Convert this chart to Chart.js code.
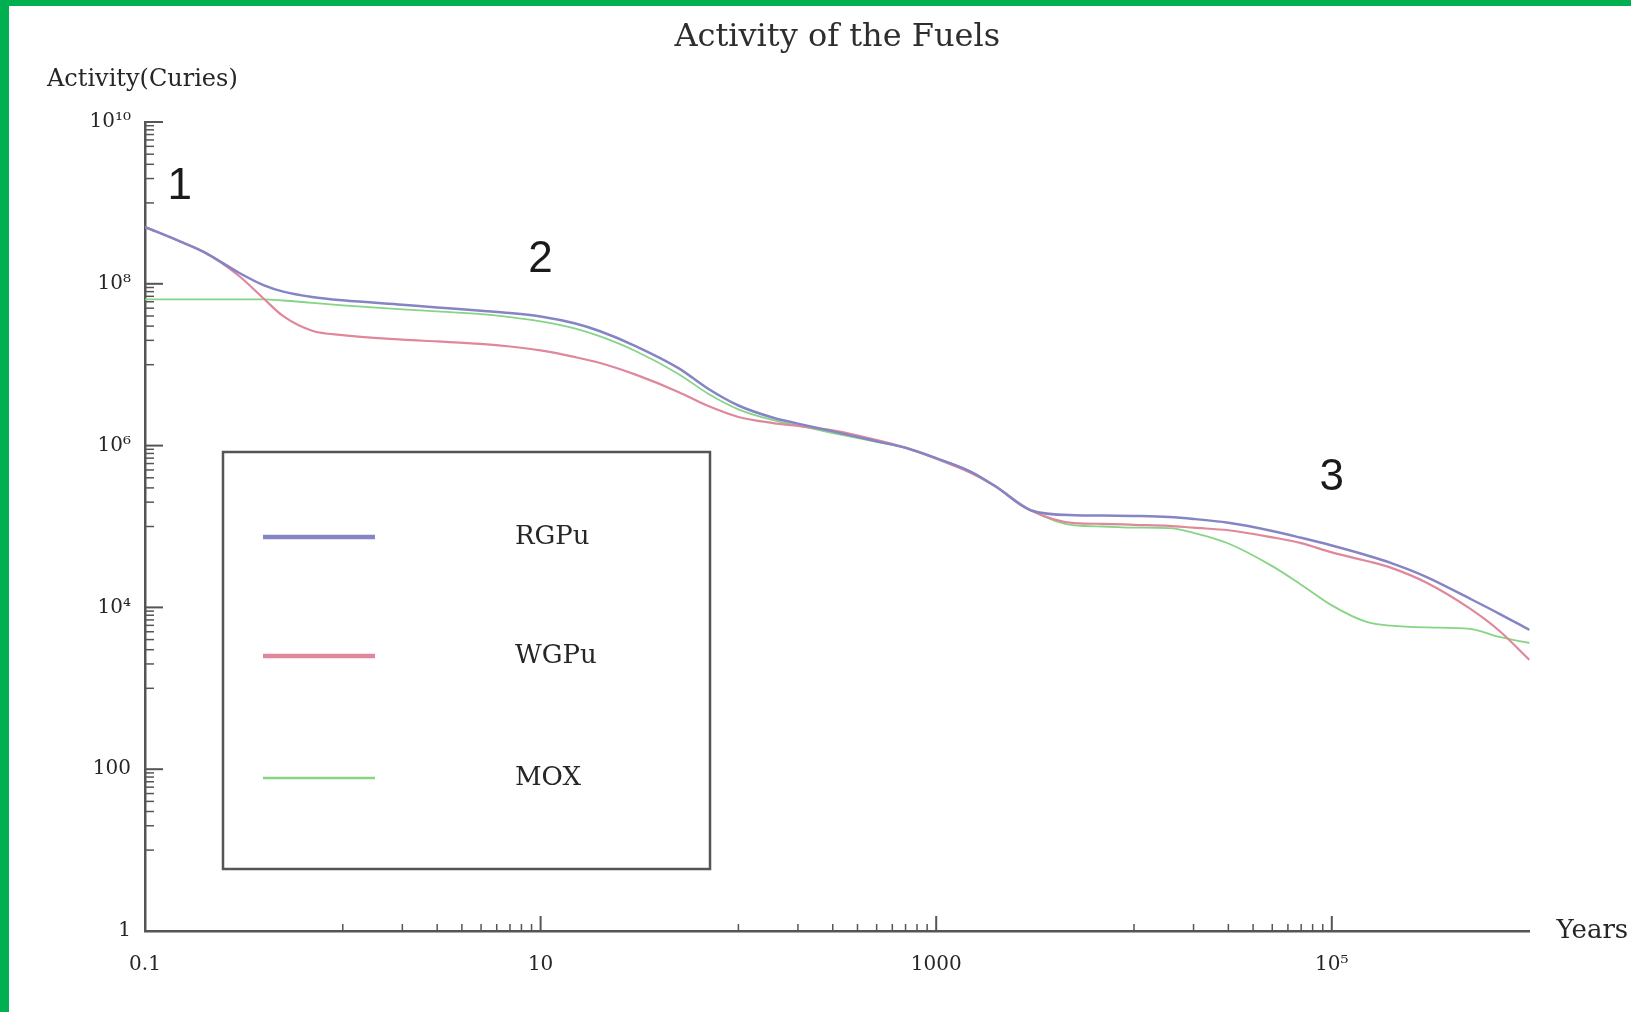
<!DOCTYPE html>
<html><head><meta charset="utf-8">
<script src="https://cdn.jsdelivr.net/npm/chart.js@4.4.1/dist/chart.umd.min.js"></script>
<style>
html,body{margin:0;padding:0;background:#fff;}
#wrap{position:relative;width:1631px;height:1012px;overflow:hidden;background:#fff;}
canvas{display:block;}
.gt{position:absolute;left:0;top:0;width:1631px;height:6px;background:#00b050;}
.gl{position:absolute;left:0;top:0;width:9px;height:1012px;background:#00b050;}
</style></head><body>
<div id="wrap"><canvas id="c" width="1631" height="1012"></canvas><div class="gt"></div><div class="gl"></div></div>
<script>
// ---- data ----
const years = [0.1,0.15,0.2,0.3,0.4,0.5,0.7,1,2,3,5,7,10,15,20,30,50,70,100,150,200,300,500,700,1000,1500,2000,3000,5000,7000,1e4,1.5e4,2e4,3e4,5e4,7e4,1e5,1.5e5,2e5,3e5,5e5,7e5,1e6];
const rgpu = [5.04e8,3.35e8,2.45e8,1.36e8,9.55e7,8.0e7,6.87e7,6.24e7,5.5e7,5.1e7,4.65e7,4.35e7,3.95e7,3.23e7,2.59e7,1.71e7,9.0e6,5.08e6,3.13e6,2.21e6,1.87e6,1.5e6,1.13e6,9.4e5,7.0e5,4.75e5,3.12e5,1.59e5,1.38e5,1.37e5,1.35e5,1.31e5,1.24e5,1.11e5,8.8e4,7.25e4,5.82e4,4.41e4,3.53e4,2.39e4,1.28e4,8.4e3,5.26e3];
const wgpu = [5.04e8,3.35e8,2.45e8,1.24e8,6.49e7,3.98e7,2.63e7,2.32e7,2.04e7,1.94e7,1.81e7,1.68e7,1.50e7,1.24e7,1.05e7,7.59e6,4.58e6,3.10e6,2.26e6,1.90e6,1.75e6,1.54e6,1.17e6,9.4e5,6.87e5,4.58e5,3.12e5,1.59e5,1.10e5,1.08e5,1.05e5,1.02e5,9.66e4,8.98e4,7.35e4,6.24e4,4.79e4,3.75e4,3.08e4,2.03e4,9.64e3,5.18e3,2.24e3];
const mox  = [6.43e7,6.43e7,6.43e7,6.43e7,6.42e7,6.22e7,5.81e7,5.41e7,4.83e7,4.57e7,4.21e7,3.87e7,3.43e7,2.80e7,2.24e7,1.49e7,7.64e6,4.41e6,2.81e6,2.06e6,1.77e6,1.43e6,1.11e6,9.4e5,7.0e5,4.75e5,3.12e5,1.59e5,1.03e5,1.0e5,9.69e4,9.57e4,8.36e4,6.17e4,3.24e4,1.91e4,1.06e4,6.62e3,5.94e3,5.65e3,5.42e3,4.31e3,3.63e3];
const seriesNames = ['RGPu','WGPu','MOX'];
const yTickValues = [1,100,1e4,1e6,1e8,1e10];
const yTickLabels = ['1','100','10⁴','10⁶','10⁸','10¹⁰'];
const xTickValues = [0.1,10,1000,1e5];
const xTickLabels = ['0.1','10','1000','10⁵'];
const annotations = [{text:'1',x:0.15,y:1.6e9},{text:'2',x:10,y:2e8},{text:'3',x:1e5,y:4e5}];
const titleText = 'Activity of the Fuels';
const yTitle = 'Activity(Curies)';
const xTitle = 'Years';

const colors = ['#8584c4','#df879b','#86d486'];
const widths = [2.5,2.2,1.8];
const legendWidths = [4.5,4.5,2.5];

const toXY = arr => arr.map((v,i)=>({x:years[i], y:v}));
const datasets = [rgpu,wgpu,mox].map((arr,i)=>({
  label: seriesNames[i], data: toXY(arr), borderColor: colors[i], backgroundColor: colors[i],
  borderWidth: widths[i], pointRadius: 0, fill: false, cubicInterpolationMode: 'monotone', borderJoinStyle:'round'
}));

const axisColor = '#555';
const textColor = '#262626';

const ticksPlugin = {
  id:'ticksPlugin',
  afterDraw(chart){
    const {ctx, chartArea:ca} = chart; const x = chart.scales.x, y = chart.scales.y;
    ctx.save(); ctx.strokeStyle = axisColor;
    const ln = (a,b,c,d,w)=>{ctx.lineWidth=w;ctx.beginPath();ctx.moveTo(a,b);ctx.lineTo(c,d);ctx.stroke();};
    yTickValues.forEach(v=>{
      const p=y.getPixelForValue(v); ln(ca.left,p,ca.left+18,p,2);
      for(let m=1;m<=9;m++){const mv=v/10*m; if(mv<y.min) continue; const q=y.getPixelForValue(mv); ln(ca.left,q,ca.left+9,q,1.5);}
    });
    xTickValues.forEach(v=>{
      const p=x.getPixelForValue(v); ln(p,ca.bottom,p,ca.bottom-15,2);
      for(let m=1;m<=9;m++){const mv=v/10*m; if(mv<x.min) continue; const q=x.getPixelForValue(mv); ln(q,ca.bottom,q,ca.bottom-7,1.5);}
    });
    // texts
    ctx.fillStyle=textColor; ctx.textBaseline='middle'; ctx.textAlign='left';
    ctx.font='24px "DejaVu Serif"'; ctx.fillText(yTitle, 47, 80);
    ctx.font='26px "DejaVu Serif"'; ctx.fillText(xTitle, ca.right+27, ca.bottom);
    ctx.fillStyle='#1a1a1a'; ctx.textAlign='center'; ctx.font='44px "Liberation Sans"';
    annotations.forEach(a=>ctx.fillText(a.text, x.getPixelForValue(a.x), y.getPixelForValue(a.y)));
    // legend box
    const L = ca.left+78, T = ca.top+330, W = 487, H = 417;
    ctx.lineWidth=2.5; ctx.strokeStyle=axisColor; ctx.strokeRect(L,T,W,H);
    const rows=[85,204,326];
    chart.data.datasets.forEach((ds,i)=>{
      const yy=T+rows[i];
      ctx.strokeStyle=ds.borderColor; ctx.lineWidth=legendWidths[i];
      ctx.beginPath(); ctx.moveTo(L+40,yy); ctx.lineTo(L+152,yy); ctx.stroke();
      ctx.fillStyle=textColor; ctx.textAlign='left'; ctx.font='26px "DejaVu Serif"';
      ctx.fillText(ds.label, L+292, yy);
    });
    ctx.restore();
  }
};

new Chart(document.getElementById('c'), {
  type:'line',
  data:{datasets},
  options:{
    responsive:false, animation:false, events:[],
    layout:{padding:{left:0,right:101.4,top:0,bottom:0}},
    plugins:{
      legend:{display:false}, tooltip:{enabled:false},
      title:{display:true, fullSize:false, text:titleText, color:'#2e2e2e', font:{family:'DejaVu Serif', size:32, weight:'normal', lineHeight:1.2}, padding:{top:18,bottom:65.6}}
    },
    scales:{
      x:{type:'logarithmic', min:0.1, max:1e6, position:'bottom',
        grid:{display:false}, border:{display:true,color:axisColor,width:2.5},
        afterBuildTicks:(s)=>{s.ticks = xTickValues.map(v=>({value:v}));},
        afterFit:(s)=>{s.height=81;},
        ticks:{autoSkip:false, maxRotation:0, padding:14, color:textColor, font:{family:'DejaVu Serif', size:20},
          callback:(v)=>{const i=xTickValues.indexOf(v); return i>=0?xTickLabels[i]:'';}}},
      y:{type:'logarithmic', min:1, max:1e10,
        grid:{display:false}, border:{display:true,color:axisColor,width:2.5},
        afterBuildTicks:(s)=>{s.ticks = yTickValues.map(v=>({value:v}));},
        afterFit:(s)=>{s.width=145;},
        ticks:{autoSkip:false, padding:6, color:textColor, font:{family:'DejaVu Serif', size:20},
          callback:(v)=>{const i=yTickValues.indexOf(v); return i>=0?yTickLabels[i]:'';}}}
    }
  },
  plugins:[ticksPlugin]
});
</script>
</body></html>
